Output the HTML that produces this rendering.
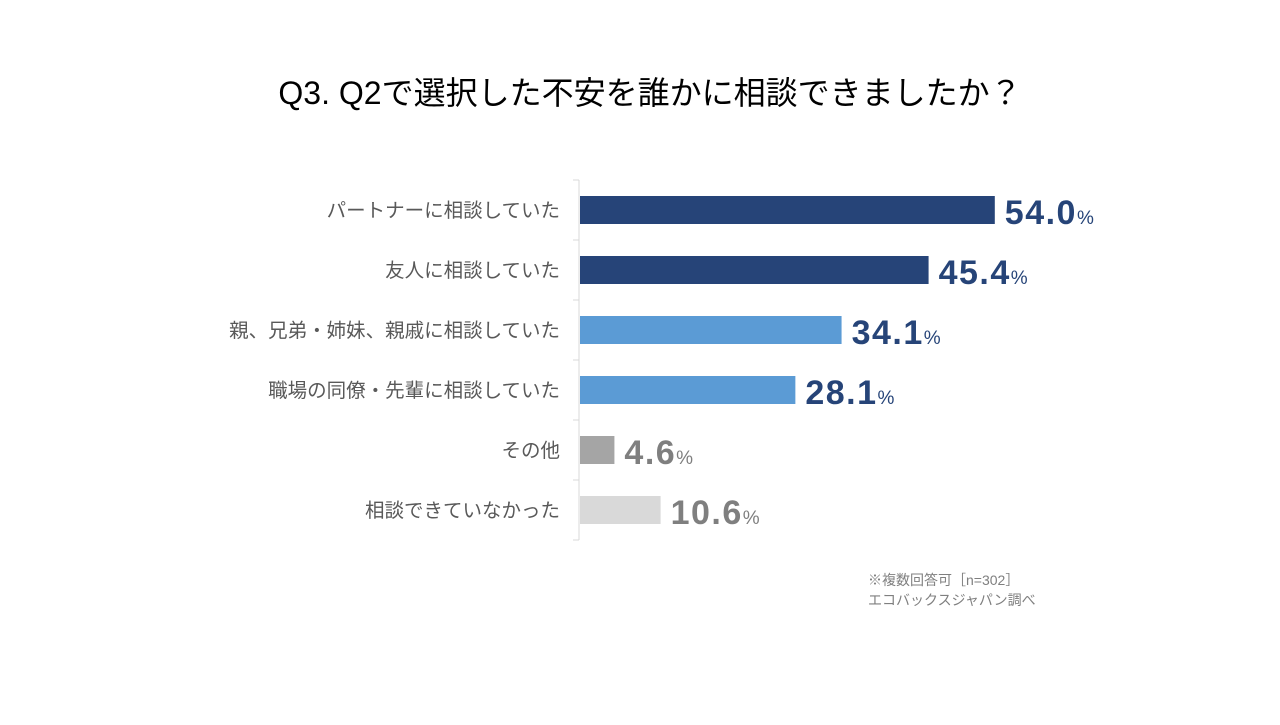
<!DOCTYPE html>
<html><head><meta charset="utf-8"><style>
html,body{margin:0;padding:0;background:#fff;}
body{width:1280px;height:720px;overflow:hidden;font-family:"Liberation Sans","Noto Sans CJK JP",sans-serif;}
</style></head><body>
<svg id="chart" width="1280" height="720" viewBox="0 0 1280 720">
<text x="650" y="104" text-anchor="middle" font-size="32" fill="#000" font-family="Liberation Sans, Noto Sans CJK JP, sans-serif">Q3. Q2で選択した不安を誰かに相談できましたか？</text>
<g id="plot"></g>
<text x="868" y="585" font-size="14" fill="#7f7f7f" font-family="Liberation Sans, Noto Sans CJK JP, sans-serif">※複数回答可［n=302］</text>
<text x="868" y="605" font-size="14" fill="#7f7f7f" font-family="Liberation Sans, Noto Sans CJK JP, sans-serif">エコバックスジャパン調べ</text>
</svg>
<script>
const categories = ["パートナーに相談していた","友人に相談していた","親、兄弟・姉妹、親戚に相談していた","職場の同僚・先輩に相談していた","その他","相談できていなかった"];
const values = [54.0,45.4,34.1,28.1,4.6,10.6];
const barColors = ["#264478","#264478","#5B9BD5","#5B9BD5","#A5A5A5","#D9D9D9"];
const labelColors = ["#264478","#264478","#264478","#264478","#7f7f7f","#7f7f7f"];

const ns="http://www.w3.org/2000/svg";
const g=document.getElementById('plot');
const x0=579, pxPer=7.7, plotTop=180, rowH=60, barH=28;
const xs=v=>x0+v*pxPer;
const yc=i=>plotTop+rowH*i+rowH/2;
function mk(t,a){const e=document.createElementNS(ns,t);for(const k in a)e.setAttribute(k,a[k]);g.appendChild(e);return e;}
const ax=mk('line',{x1:x0,y1:plotTop,x2:x0,y2:plotTop+rowH*categories.length,stroke:'#d9d9d9','stroke-width':1});


for(let i=0;i<=categories.length;i++){
  const t=mk('line',{x1:x0-6,y1:plotTop+rowH*i,x2:x0,y2:plotTop+rowH*i,stroke:'#d9d9d9','stroke-width':1});
  
  
}
categories.forEach((c,i)=>{
  const y=yc(i);
  const lab=mk('text',{x:560,y:y+7,'text-anchor':'end','font-size':19.5,fill:'#595959','font-family':'Liberation Sans, Noto Sans CJK JP, sans-serif'});
  lab.textContent=c;
  
  
  const b=mk('rect',{x:x0+1,y:y-barH/2,width:xs(values[i])-x0-1,height:barH,fill:barColors[i]});
  
  
  const v=mk('text',{x:xs(values[i])+10,y:y+14,'font-size':34,'font-weight':'bold','letter-spacing':1.5,fill:labelColors[i],'font-family':'Liberation Sans, sans-serif'});
  v.textContent=values[i].toFixed(1);
  const sp=document.createElementNS(ns,'tspan');sp.setAttribute('font-size','19');sp.setAttribute('font-weight','normal');sp.textContent='%';v.appendChild(sp);
  
  
});
</script>
</body></html>
